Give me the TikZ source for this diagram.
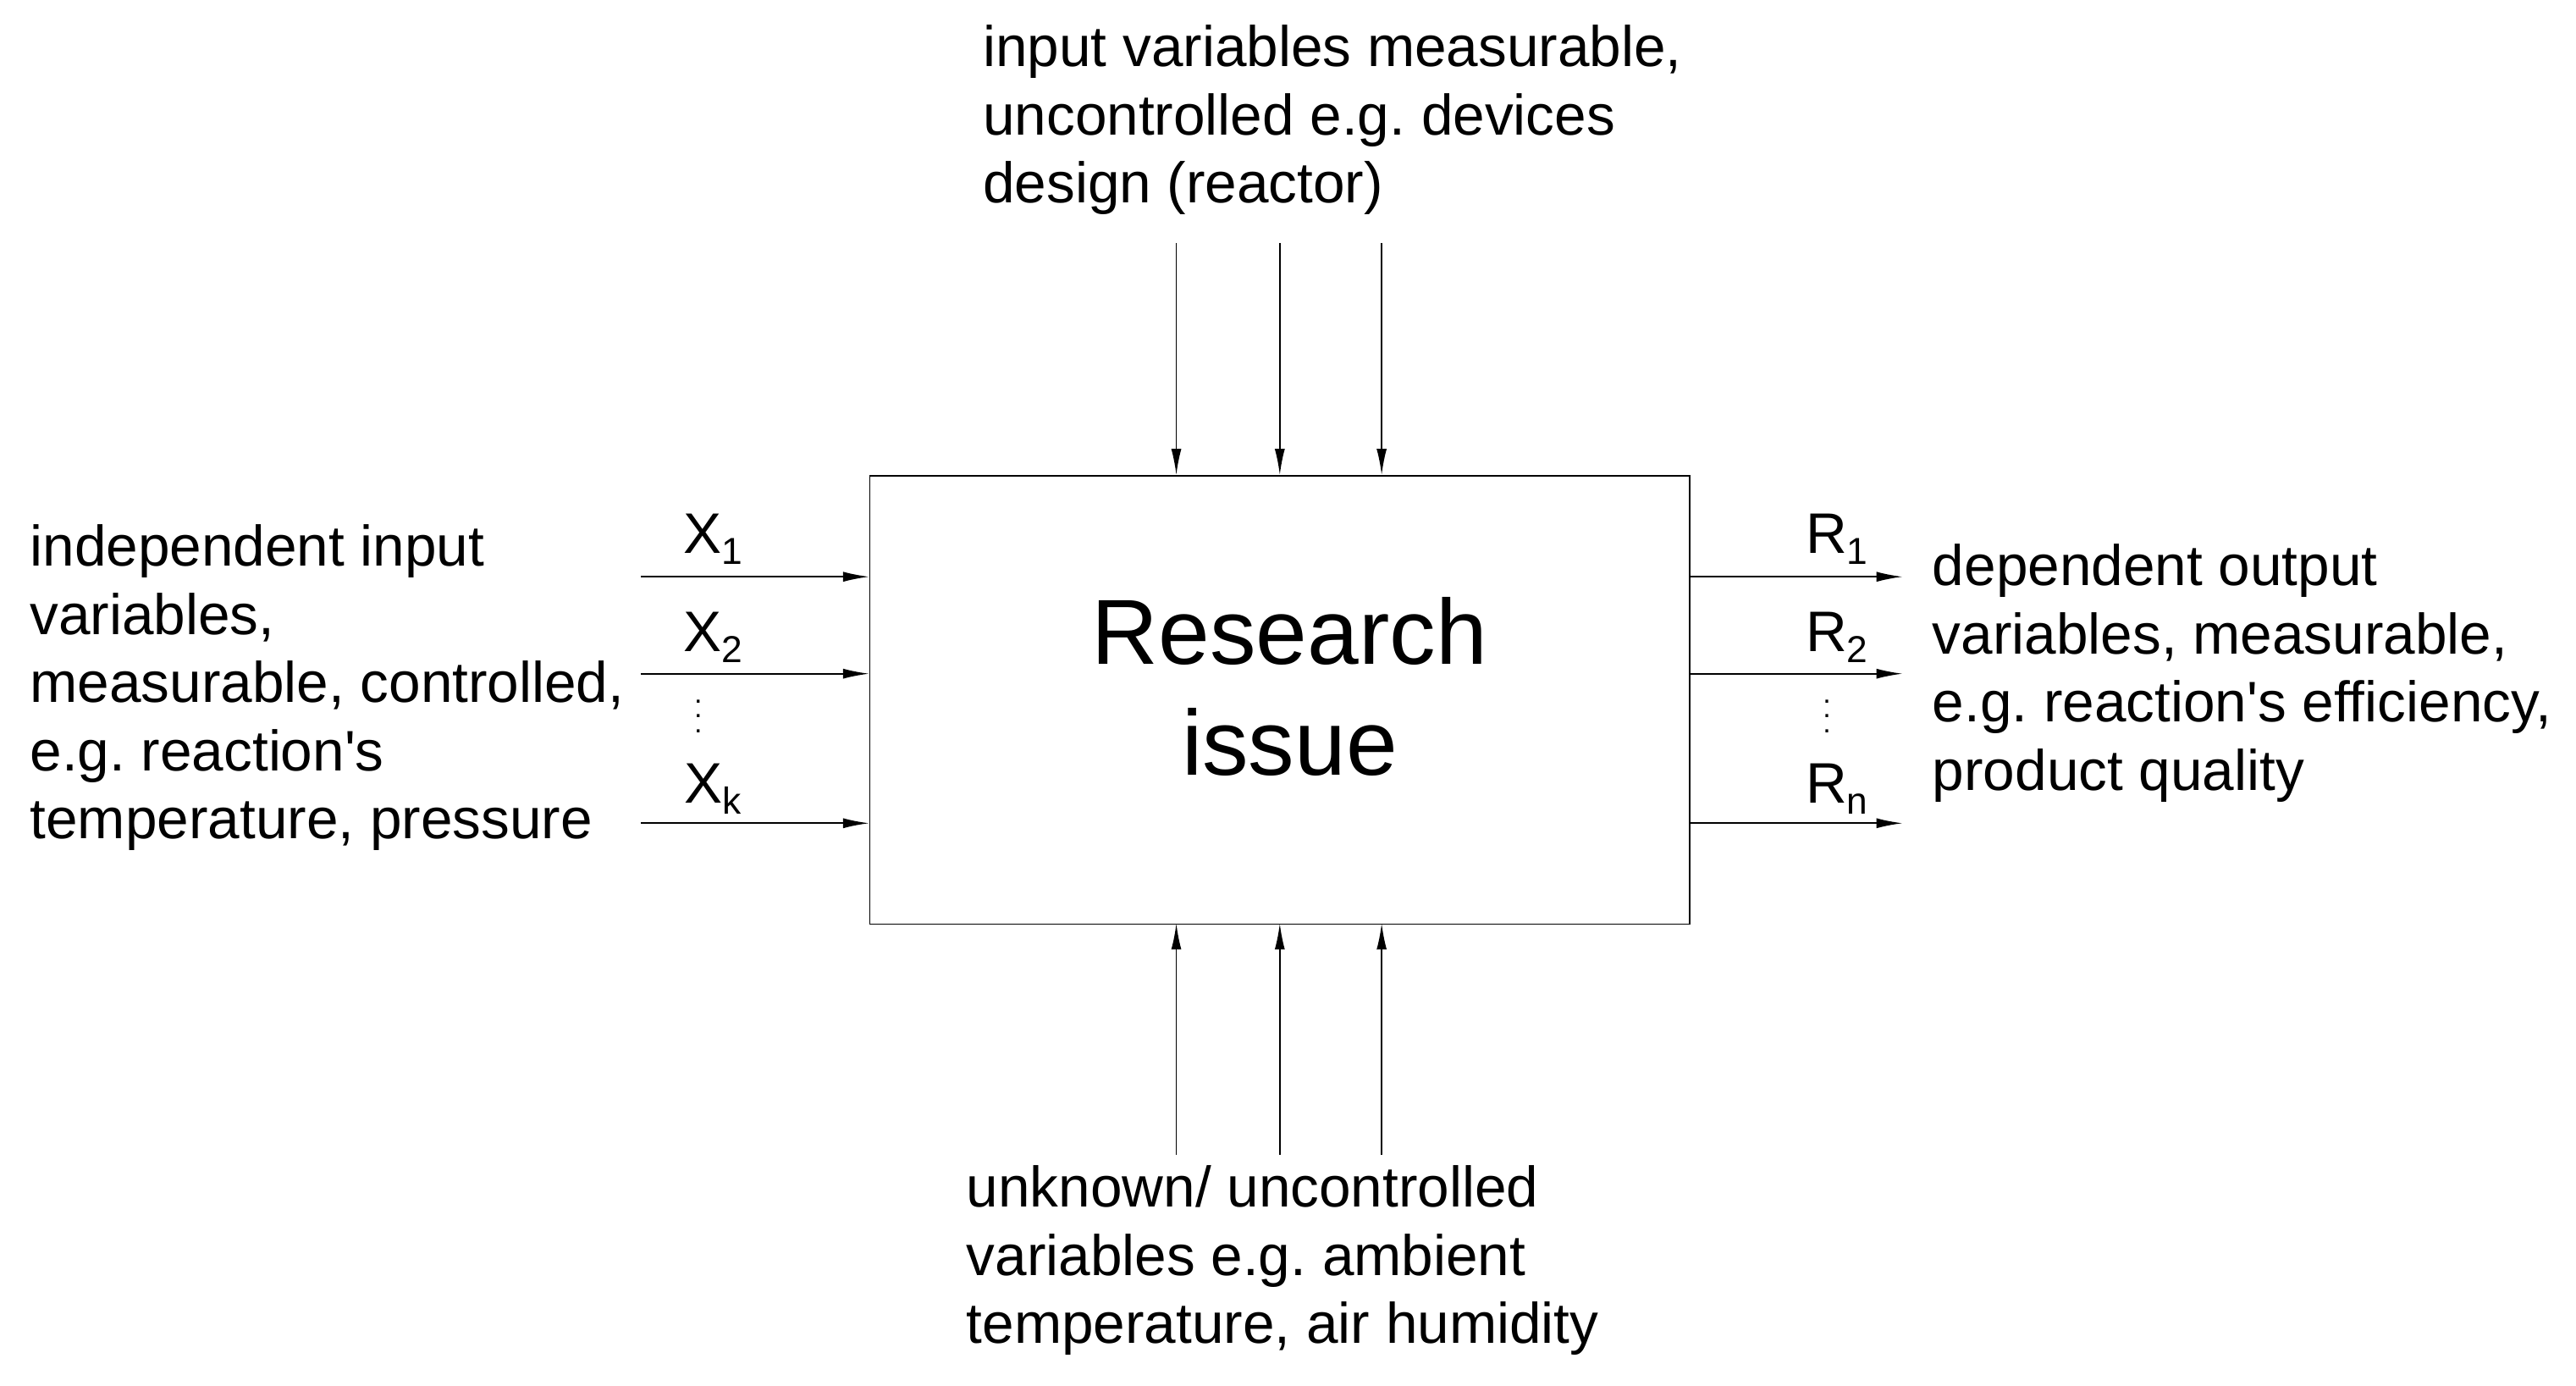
\documentclass[tikz,border=0pt]{standalone}
\usepackage{fontspec}
\setmainfont{Liberation Sans}
\usetikzlibrary{arrows.meta}
\newcommand{\sbs}[1]{\raisebox{-0.35ex}{\fontsize{13}{13}\selectfont #1}}
\newcommand{\ap}{\textquotesingle}
\frenchspacing
\begin{document}
\begin{tikzpicture}[x=0.02cm,y=-0.02cm,
  arr/.style={-{Latex[length=9pt,width=3.5pt]},line width=0.5pt},
  txt/.style={font=\fontsize{19.8}{23.6}\selectfont,align=left,inner sep=0pt},
  lab/.style={font=\fontsize{19.8}{22}\selectfont,inner sep=0pt}]
\useasboundingbox (0,0) rectangle (1568,843);
\node[draw,line width=0.5pt,minimum width=499*0.02cm,minimum height=273*0.02cm,anchor=north west,inner sep=0pt] (box) at (529,289) {};
\node[font=\fontsize{32}{38.5}\selectfont,align=center] (ri) at (785,418) {Research\\issue};
\foreach \x/\n in {716/a,779/b,841/c}{
  \coordinate (t\n) at (\x,148); \coordinate (tt\n) at (\x,289);
  \draw[arr] (t\n) -- (tt\n);
  \coordinate (b\n) at (\x,703); \coordinate (bb\n) at (\x,562);
  \draw[arr] (b\n) -- (bb\n);}
\foreach \y/\n in {351/a,410/b,501/c}{
  \coordinate (l\n) at (390,\y); \coordinate (ll\n) at (529,\y);
  \draw[arr] (l\n) -- (ll\n);
  \coordinate (r\n) at (1028,\y); \coordinate (rr\n) at (1158,\y);
  \draw[arr] (r\n) -- (rr\n);}
\node[lab] (x1) at (434,328) {X\sbs{1}};
\node[lab] (x2) at (434,388) {X\sbs{2}};
\node[font=\fontsize{10}{5}\selectfont,align=center,inner sep=0pt] (xd) at (425,436) {.\\.\\.};
\node[lab] (xk) at (434,480) {X\sbs{k}};
\node[lab] (r1) at (1118,328) {R\sbs{1}};
\node[lab] (r2) at (1118,388) {R\sbs{2}};
\node[font=\fontsize{10}{5}\selectfont,align=center,inner sep=0pt] (rd) at (1112,436) {.\\.\\.};
\node[lab] (rn) at (1118,480) {R\sbs{n}};
\node[txt,anchor=north west] (lt) at (18,319) {independent input\\variables,\\measurable, controlled,\\e.g. reaction\ap s\\temperature, pressure};
\node[txt,anchor=north west] (rt) at (1176,331) {dependent output\\variables, measurable,\\e.g. reaction\ap s efficiency,\\product quality};
\node[txt,anchor=north west] (tt) at (598,15) {input variables measurable,\\uncontrolled e.g. devices\\design (reactor)};
\node[txt,anchor=north west] (bt) at (588,709) {unknown/ uncontrolled\\variables e.g. ambient\\temperature, air humidity};
\end{tikzpicture}
\end{document}
